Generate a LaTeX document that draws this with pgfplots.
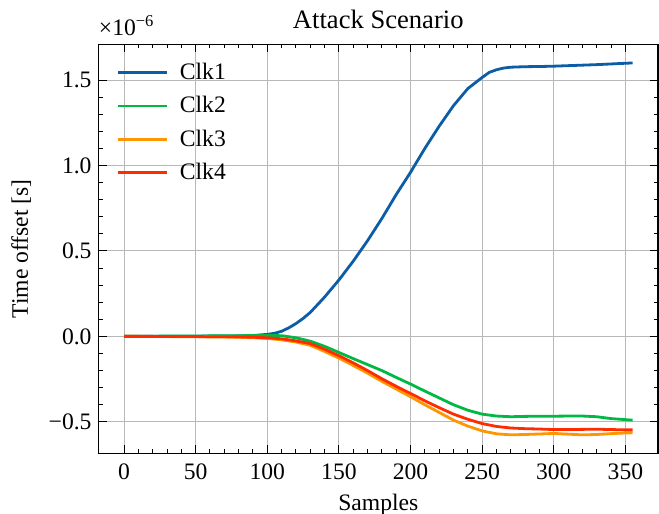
\documentclass[border=0pt]{standalone}
\usepackage{fontspec}
\setmainfont{Liberation Serif}
\usepackage{pgfplots}
\pgfplotsset{compat=1.18}

\definecolor{sciblue}{HTML}{0C5DA5}
\definecolor{scigreen}{HTML}{00B945}
\definecolor{sciorange}{HTML}{FF9500}
\definecolor{scired}{HTML}{FF2C00}

\begin{document}
\begin{tikzpicture}
\begin{axis}[
    name=ax,
    scale only axis,
    width=279.7pt, height=204.5pt,
    xmin=-17.75, xmax=372.75,
    ymin=-0.684, ymax=1.709,
    xtick={0,50,100,150,200,250,300,350},
    ytick={-0.5,0,0.5,1,1.5},
    yticklabels={−0.5,0.0,0.5,1.0,1.5},
    minor x tick num=4, minor y tick num=4,
    tick pos=both, tick align=inside,
    major tick length=4pt, minor tick length=2pt,
    every tick/.style={black, line width=0.5pt},
    axis line style={line width=0.6pt},
    grid=major,
    grid style={line width=0.5pt, color=black!28},
    /pgf/number format/assume math mode=true,
    tick label style={font=\fontsize{11.8}{14}\selectfont},
    xticklabel style={yshift=-1.5pt},
    title={Attack Scenario},
    title style={font=\fontsize{13.3}{15}\selectfont, yshift=-2pt},
    xlabel={Samples},
    ylabel={Time offset [s]},
    label style={font=\fontsize{11.8}{14}\selectfont},
    ylabel style={yshift=2pt},
    xlabel style={yshift=-0.5pt},
    legend style={at={(0.02,0.975)}, anchor=north west, draw=none, fill=none,
        font=\fontsize{11.8}{14}\selectfont, row sep=3pt},
    legend cell align=left,
    legend image code/.code={\draw[#1] (0cm,0cm) -- (0.86cm,0cm); \path (0.86cm+4pt,0cm);},
    every axis plot/.append style={line width=1.4pt},
]
\addplot[sciblue] coordinates {
(0,0) (10,0) (20,0.001) (30,0) (40,0.001) (50,0.001) (60,0.002) (70,0.002) (80,0.003) (90,0.005)
(100,0.012) (105,0.018) (110,0.03) (115,0.05) (120,0.075) (125,0.105) (130,0.14) (135,0.185)
(140,0.23) (145,0.28) (150,0.33) (160,0.44) (170,0.56) (180,0.69) (190,0.83) (200,0.96)
(210,1.10) (220,1.23) (230,1.35) (240,1.45) (250,1.515) (255,1.545) (260,1.56) (265,1.57)
(270,1.575) (280,1.578) (290,1.579) (300,1.581) (310,1.584) (320,1.587) (330,1.59) (340,1.594)
(350,1.598) (355,1.60)
};
\addlegendentry{Clk1}
\addplot[scigreen] coordinates {
(0,0) (10,0.001) (20,0.001) (30,0.002) (40,0.002) (50,0.002) (60,0.003) (70,0.003) (80,0.004) (90,0.005)
(100,0.006) (110,0.004) (120,-0.008) (130,-0.028) (140,-0.058) (150,-0.094) (160,-0.13)
(170,-0.165) (180,-0.2) (190,-0.24) (200,-0.279) (210,-0.32) (220,-0.36) (230,-0.4)
(240,-0.432) (250,-0.455) (260,-0.466) (270,-0.47) (280,-0.468) (290,-0.467) (300,-0.467)
(310,-0.466) (320,-0.466) (330,-0.47) (340,-0.481) (350,-0.487) (355,-0.49)
};
\addlegendentry{Clk2}
\addplot[sciorange] coordinates {
(0,0) (10,0) (20,-0.001) (30,-0.001) (40,-0.002) (50,-0.002) (60,-0.003) (70,-0.004) (80,-0.005) (90,-0.008)
(100,-0.012) (110,-0.02) (120,-0.033) (130,-0.052) (140,-0.088) (150,-0.127) (160,-0.17)
(170,-0.215) (180,-0.263) (190,-0.308) (200,-0.353) (210,-0.4) (220,-0.445) (230,-0.49)
(240,-0.525) (250,-0.553) (260,-0.57) (270,-0.576) (280,-0.574) (290,-0.571) (300,-0.568)
(310,-0.572) (320,-0.576) (330,-0.574) (340,-0.569) (350,-0.565) (355,-0.564)
};
\addlegendentry{Clk3}
\addplot[scired] coordinates {
(0,0) (10,0) (20,0) (30,-0.001) (40,-0.001) (50,-0.001) (60,-0.002) (70,-0.002) (80,-0.003) (90,-0.005)
(100,-0.008) (110,-0.014) (120,-0.026) (130,-0.042) (140,-0.075) (150,-0.113) (160,-0.155)
(170,-0.2) (180,-0.248) (190,-0.292) (200,-0.334) (210,-0.377) (220,-0.417) (230,-0.455)
(240,-0.485) (250,-0.51) (260,-0.527) (270,-0.536) (280,-0.54) (290,-0.542) (300,-0.545)
(310,-0.545) (320,-0.544) (330,-0.543) (340,-0.545) (350,-0.547) (355,-0.547)
};
\addlegendentry{Clk4}
\end{axis}
\node[anchor=south west, inner sep=0pt, font=\fontsize{11.8}{14}\selectfont]
    at ([yshift=4pt]ax.north west) {×10\textsuperscript{−6}};
\pgfresetboundingbox
\path[use as bounding box] ([xshift=-49.3pt, yshift=-30.35pt]ax.south west)
    rectangle ([xshift=0.5pt, yshift=22.15pt]ax.north east);
\end{tikzpicture}
\end{document}
